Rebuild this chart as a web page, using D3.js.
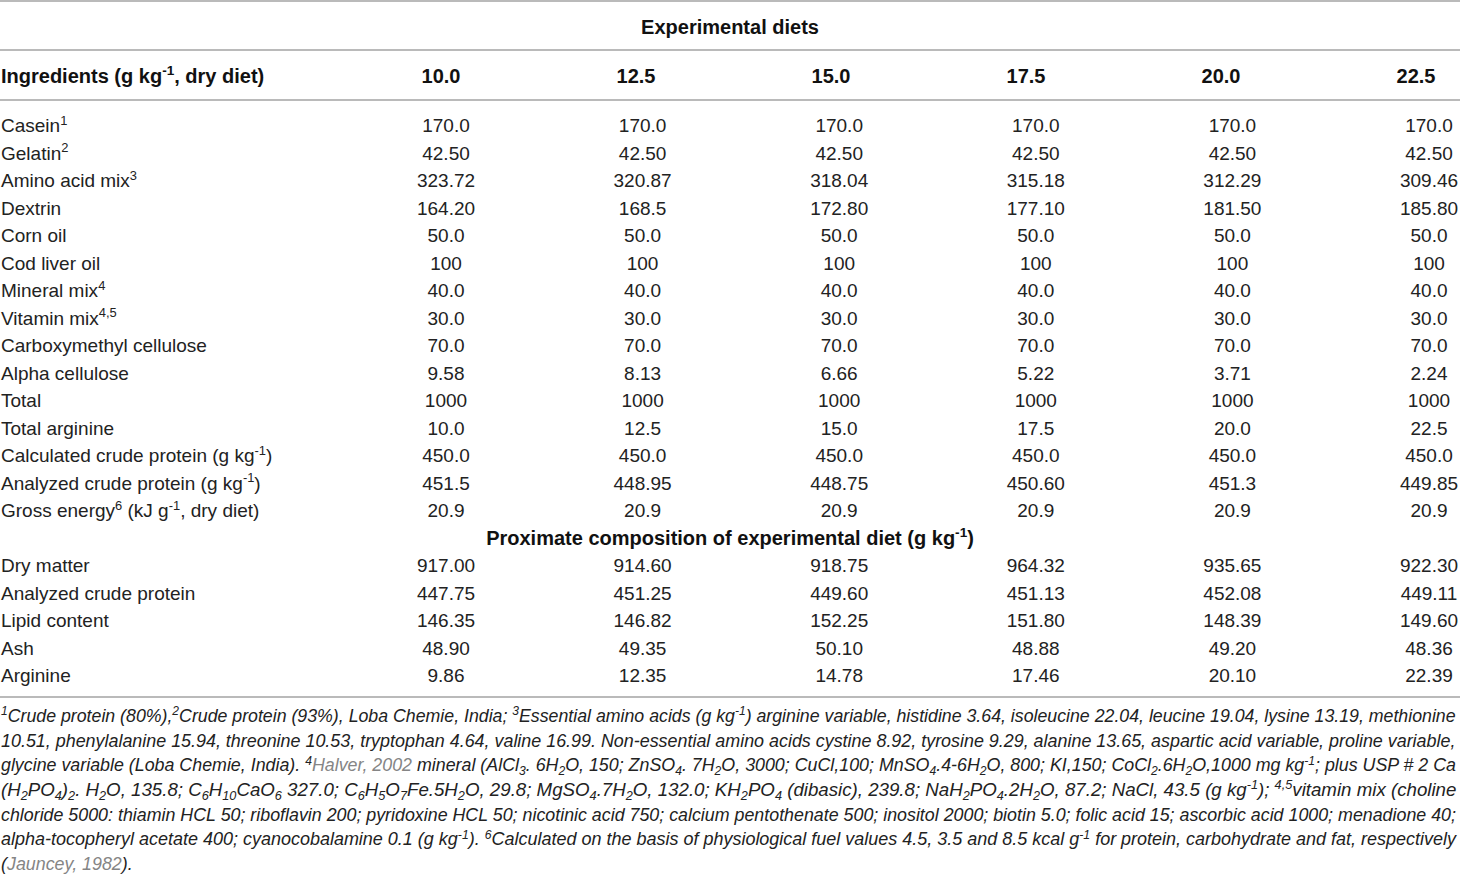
<!DOCTYPE html>
<html>
<head>
<meta charset="utf-8">
<script src="https://cdn.jsdelivr.net/npm/d3@7"></script>
<style>
  body { margin: 0; background: #fff; }
  text { font-family: "Liberation Sans", Arial, Helvetica, sans-serif; }
</style>
</head>
<body>
<div id="table"></div>
<script>
// column headers (arginine level of each diet)
var diets = ["10.0", "12.5", "15.0", "17.5", "20.0", "22.5"];

// ingredient rows: ^{..} superscript, _{..} subscript, ~{..} citation
var ingredientLabels = [
  "Casein^{1}", "Gelatin^{2}", "Amino acid mix^{3}", "Dextrin", "Corn oil",
  "Cod liver oil", "Mineral mix^{4}", "Vitamin mix^{4,5}", "Carboxymethyl cellulose",
  "Alpha cellulose", "Total", "Total arginine",
  "Calculated crude protein (g kg^{-1})", "Analyzed crude protein (g kg^{-1})",
  "Gross energy^{6} (kJ g^{-1}, dry diet)"
];
var ingredientValues = [
  ["170.0", "170.0", "170.0", "170.0", "170.0", "170.0"],
  ["42.50", "42.50", "42.50", "42.50", "42.50", "42.50"],
  ["323.72", "320.87", "318.04", "315.18", "312.29", "309.46"],
  ["164.20", "168.5", "172.80", "177.10", "181.50", "185.80"],
  ["50.0", "50.0", "50.0", "50.0", "50.0", "50.0"],
  ["100", "100", "100", "100", "100", "100"],
  ["40.0", "40.0", "40.0", "40.0", "40.0", "40.0"],
  ["30.0", "30.0", "30.0", "30.0", "30.0", "30.0"],
  ["70.0", "70.0", "70.0", "70.0", "70.0", "70.0"],
  ["9.58", "8.13", "6.66", "5.22", "3.71", "2.24"],
  ["1000", "1000", "1000", "1000", "1000", "1000"],
  ["10.0", "12.5", "15.0", "17.5", "20.0", "22.5"],
  ["450.0", "450.0", "450.0", "450.0", "450.0", "450.0"],
  ["451.5", "448.95", "448.75", "450.60", "451.3", "449.85"],
  ["20.9", "20.9", "20.9", "20.9", "20.9", "20.9"]
];

var proximateTitle = "Proximate composition of experimental diet (g kg^{-1})";
var proximateLabels = ["Dry matter", "Analyzed crude protein", "Lipid content", "Ash", "Arginine"];
var proximateValues = [
  ["917.00", "914.60", "918.75", "964.32", "935.65", "922.30"],
  ["447.75", "451.25", "449.60", "451.13", "452.08", "449.11"],
  ["146.35", "146.82", "152.25", "151.80", "148.39", "149.60"],
  ["48.90", "49.35", "50.10", "48.88", "49.20", "48.36"],
  ["9.86", "12.35", "14.78", "17.46", "20.10", "22.39"]
];

var footnoteLines = [
  "^{1}Crude protein (80%),^{2}Crude protein (93%), Loba Chemie, India; ^{3}Essential amino acids (g kg^{-1}) arginine variable, histidine 3.64, isoleucine 22.04, leucine 19.04, lysine 13.19, methionine",
  "10.51, phenylalanine 15.94, threonine 10.53, tryptophan 4.64, valine 16.99. Non-essential amino acids cystine 8.92, tyrosine 9.29, alanine 13.65, aspartic acid variable, proline variable,",
  "glycine variable (Loba Chemie, India). ^{4}~{Halver, 2002} mineral (AlCl_{3}. 6H_{2}O, 150; ZnSO_{4}. 7H_{2}O, 3000; CuCl,100; MnSO_{4}.4-6H_{2}O, 800; KI,150; CoCl_{2}.6H_{2}O,1000 mg kg^{-1}; plus USP # 2 Ca",
  "(H_{2}PO_{4})_{2}. H_{2}O, 135.8; C_{6}H_{10}CaO_{6} 327.0; C_{6}H_{5}O_{7}Fe.5H_{2}O, 29.8; MgSO_{4}.7H_{2}O, 132.0; KH_{2}PO_{4} (dibasic), 239.8; NaH_{2}PO_{4}.2H_{2}O, 87.2; NaCl, 43.5 (g kg^{-1}); ^{4,5}vitamin mix (choline",
  "chloride 5000: thiamin HCL 50; riboflavin 200; pyridoxine HCL 50; nicotinic acid 750; calcium pentothenate 500; inositol 2000; biotin 5.0; folic acid 15; ascorbic acid 1000; menadione 40;",
  "alpha-tocopheryl acetate 400; cyanocobalamine 0.1 (g kg^{-1}). ^{6}Calculated on the basis of physiological fuel values 4.5, 3.5 and 8.5 kcal g^{-1} for protein, carbohydrate and fat, respectively",
  "(~{Jauncey, 1982})."
];

const width = 1460, height = 885;
const textColor = "#222", ruleColor = "#a3a3a3", linkColor = "#858585";

var svg = d3.select("#table").append("svg")
  .attr("width", width)
  .attr("height", height);

// writes a marked-up string into a text element as tspans
function richText(sel, str, fontSize) {
  var parts = str.split(/(\^\{[^}]*\}|_\{[^}]*\}|~\{[^}]*\})/).filter(p => p.length);
  var shift = 0;
  parts.forEach(function (p) {
    var kind = "n", txt = p;
    if (/^\^\{/.test(p)) { kind = "sup"; txt = p.slice(2, -1); }
    else if (/^_\{/.test(p)) { kind = "sub"; txt = p.slice(2, -1); }
    else if (/^~\{/.test(p)) { kind = "link"; txt = p.slice(2, -1); }
    var target = kind == "sup" ? -0.38 * fontSize : kind == "sub" ? 0.22 * fontSize : 0;
    var t = sel.append("tspan").text(txt);
    if (target != shift) { t.attr("dy", target - shift); shift = target; }
    if (kind == "sup" || kind == "sub") t.style("font-size", (fontSize * 0.68) + "px");
    if (kind == "link") t.attr("fill", linkColor);
  });
}

// horizontal rules
var rules = [1, 50, 100, 697];
svg.selectAll("line.rule")
  .data(rules)
  .enter()
  .append("line")
  .attr("class", "rule")
  .attr("x1", 0).attr("x2", width)
  .attr("y1", d => d).attr("y2", d => d)
  .attr("stroke", ruleColor)
  .attr("stroke-width", 1.6);

// spanning header
svg.append("text")
  .attr("x", 730).attr("y", 34)
  .attr("text-anchor", "middle")
  .style("font-size", "20px").style("font-weight", "bold")
  .attr("fill", "#111")
  .text("Experimental diets");

// column header row
var x_header = d3.scalePoint().domain(diets).range([441, 1416]);
var x_value = d3.scalePoint().domain(d3.range(diets.length)).range([446, 1429]);

richText(svg.append("text")
  .attr("x", 1).attr("y", 83)
  .style("font-size", "20px").style("font-weight", "bold")
  .attr("fill", "#111"), "Ingredients (g kg^{-1}, dry diet)", 20);

svg.selectAll("text.colhead")
  .data(diets)
  .enter()
  .append("text")
  .attr("class", "colhead")
  .attr("x", d => x_header(d)).attr("y", 83)
  .attr("text-anchor", "middle")
  .style("font-size", "20px").style("font-weight", "bold")
  .attr("fill", "#111")
  .text(d => d);

// body rows: ingredients, proximate title, proximate composition
var rows = [];
ingredientLabels.forEach((l, i) => rows.push({label: l, values: ingredientValues[i]}));
rows.push({title: proximateTitle});
proximateLabels.forEach((l, i) => rows.push({label: l, values: proximateValues[i]}));

var y_row = d3.scalePoint().domain(d3.range(rows.length)).range([125, 675]);

var rowG = svg.selectAll("g.row")
  .data(rows)
  .enter()
  .append("g")
  .attr("class", "row")
  .attr("transform", (d, i) => "translate(0," + (y_row(i) + 7) + ")");

rowG.each(function (d) {
  var g = d3.select(this);
  if (d.title) {
    richText(g.append("text")
      .attr("x", 730).attr("text-anchor", "middle")
      .style("font-size", "20px").style("font-weight", "bold")
      .attr("fill", "#111"), d.title, 20);
    return;
  }
  richText(g.append("text").attr("x", 1)
    .style("font-size", "19px").attr("fill", textColor), d.label, 19);
  g.selectAll("text.val")
    .data(d.values)
    .enter()
    .append("text")
    .attr("class", "val")
    .attr("x", (v, j) => x_value(j))
    .attr("text-anchor", "middle")
    .style("font-size", "19px")
    .attr("fill", textColor)
    .text(v => v);
});

// footnotes, justified to the table width
var y_note = d3.scalePoint().domain(d3.range(footnoteLines.length)).range([722, 870]);
var noteWidth = 1456;
var scales = [];
var notes = footnoteLines.map(function (line, i) {
  var t = svg.append("text")
    .attr("x", 0).attr("y", 0)
    .style("font-size", "18px").style("font-style", "italic")
    .attr("fill", textColor);
  richText(t, line, 18);
  var w = t.node().getComputedTextLength();
  if (i < footnoteLines.length - 1) scales.push(noteWidth / w);
  return {t: t, w: w, i: i};
});
var lastScale = d3.median(scales);
notes.forEach(function (n) {
  var s = n.i < footnoteLines.length - 1 ? noteWidth / n.w : lastScale;
  n.t.attr("transform", "translate(1," + y_note(n.i) + ") scale(" + s + ",1)");
});
</script>
</body>
</html>
